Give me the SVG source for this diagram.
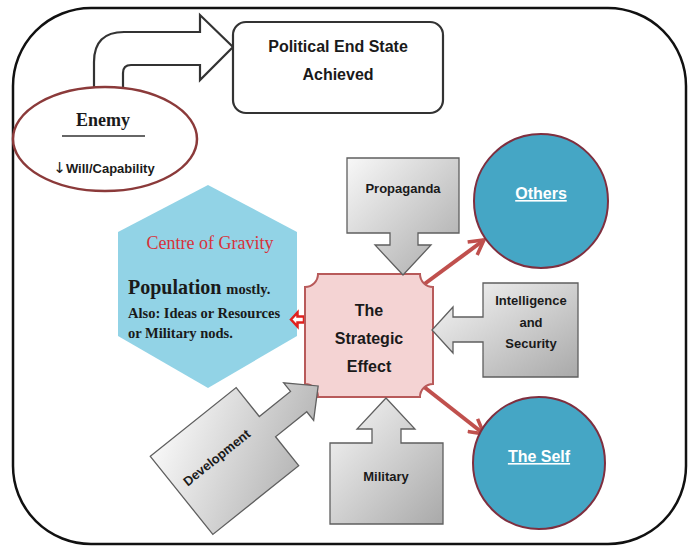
<svg xmlns="http://www.w3.org/2000/svg" width="688" height="547" viewBox="0 0 688 547">
<defs>
<linearGradient id="gray" x1="0" y1="0" x2="1" y2="1">
<stop offset="0" stop-color="#f8f8f8"/>
<stop offset="1" stop-color="#a9a9a9"/>
</linearGradient>
<marker id="ah" viewBox="0 0 12 12" refX="10" refY="6" markerWidth="4.8" markerHeight="4.8" orient="auto" markerUnits="strokeWidth">
<path d="M1,1 L10,6 L1,11" fill="none" stroke="#c0504d" stroke-width="2.2" stroke-linejoin="miter"/>
</marker>
<style>
.sans{font-family:"Liberation Sans",Arial,sans-serif;font-weight:bold;fill:#1a1a1a;text-anchor:middle}
.serif{font-family:"Liberation Serif","Times New Roman",serif;font-weight:bold;fill:#1a1a1a}
.box{fill:url(#gray);stroke:#5f5f5f;stroke-width:1.3}
.circ{fill:#45a6c5;stroke:#7f2f3f;stroke-width:2}
.ctext{font-family:"Liberation Sans",Arial,sans-serif;font-weight:bold;font-size:16px;fill:#ffffff;text-anchor:middle;text-decoration:underline}
.red{fill:none;stroke:#c0504d;stroke-width:4;marker-end:url(#ah)}
</style>
</defs>
<rect x="13" y="8" width="673" height="536" rx="78" ry="78" fill="#ffffff" stroke="#111" stroke-width="2.5"/>

<g id="connectors">
<path d="M94,88 L94,62 Q94,32 124,32 L200,32 L200,15 L233,47 L200,80 L200,65 L131,65 Q123,65 123,73 L123,88" fill="#ffffff" stroke="#333" stroke-width="2.2" stroke-linejoin="miter"/>
<line class="red" x1="419" y1="288" x2="484" y2="240"/>
<line class="red" x1="419" y1="383" x2="484" y2="434"/>
</g>

<g id="political-end-state">
<rect x="233" y="22" width="210" height="91" rx="13" fill="#ffffff" stroke="#333" stroke-width="2.2"/>
<text class="sans" x="338" y="52" font-size="16">Political End State</text>
<text class="sans" x="338" y="80" font-size="16">Achieved</text>
</g>

<g id="enemy">
<ellipse cx="105" cy="139" rx="92" ry="52" fill="#ffffff" stroke="#8b3a3a" stroke-width="2.5"/>
<text class="serif" x="103" y="126" font-size="18" text-anchor="middle">Enemy</text>
<line x1="62" y1="136" x2="145" y2="136" stroke="#333" stroke-width="1.3"/>
<text class="sans" x="104" y="173" font-size="13"><tspan font-family="'DejaVu Sans',sans-serif" font-weight="normal" font-size="15">↓</tspan>Will/Capability</text>
</g>

<g id="centre-of-gravity">
<polygon points="208,185 297,232 297,336 208,388 118,336 118,232" fill="#92d3e6"/>
<text x="210" y="249" font-family="'Liberation Serif','Times New Roman',serif" font-size="18" fill="#d8323a" text-anchor="middle">Centre of Gravity</text>
<text class="serif" x="128" y="294" font-size="20">Population <tspan font-size="14.5">mostly.</tspan></text>
<text class="serif" x="128" y="318" font-size="14.5">Also: Ideas or Resources</text>
<text class="serif" x="128" y="338" font-size="14.5">or Military nods.</text>
</g>

<g id="cog-link">
<path d="M291,319.5 L297.5,312.5 L297.5,316.5 L304,316.5 L304,322.5 L297.5,322.5 L297.5,326.5 Z" fill="#ffffff" stroke="#e0201e" stroke-width="2.5" stroke-linejoin="miter"/>
</g>

<g id="strategic-effect">
<path d="M318,274 L420,274 A13,13 0 0 0 433,287 L433,384 A13,13 0 0 0 420,397 L318,397 A13,13 0 0 0 305,384 L305,287 A13,13 0 0 0 318,274 Z" fill="#f4d3d3" stroke="#b85a5a" stroke-width="2"/>
<text class="sans" x="369" y="316" font-size="16">The</text>
<text class="sans" x="369" y="344" font-size="16">Strategic</text>
<text class="sans" x="369" y="372" font-size="16">Effect</text>
</g>

<g id="propaganda">
<path class="box" d="M347,158 H459 V233 H418 V245 H431 L403,275 L375,245 H390 V233 H347 Z"/>
<text class="sans" x="403" y="193" font-size="13">Propaganda</text>
</g>

<g id="intelligence-security">
<path class="box" d="M483,283 H578 V377 H483 V342 H453 V353 L432,330 L453,307 V317 H483 Z"/>
<text class="sans" x="531" y="305" font-size="13">Intelligence</text>
<text class="sans" x="531" y="327" font-size="13">and</text>
<text class="sans" x="531" y="348" font-size="13">Security</text>
</g>

<g id="military">
<path class="box" d="M330,443 H372 V429 H357 L386,398 L415,429 H401 V443 H443 V524 H330 Z"/>
<text class="sans" x="386" y="481" font-size="13">Military</text>
</g>

<g id="development" transform="translate(224.5,461) rotate(-38.7)">
<path class="box" d="M-55,-50 H55 V-13 H95 V-24 L120,0 L95,24 V13 H55 V50 H-55 Z"/>
<text class="sans" x="-4" y="-3" font-size="13">Development</text>
</g>

<g id="others">
<circle class="circ" cx="541" cy="201" r="67"/>
<text class="ctext" x="541" y="199">Others</text>
</g>

<g id="the-self">
<circle class="circ" cx="539" cy="463" r="66"/>
<text class="ctext" x="539" y="462">The Self</text>
</g>
</svg>
